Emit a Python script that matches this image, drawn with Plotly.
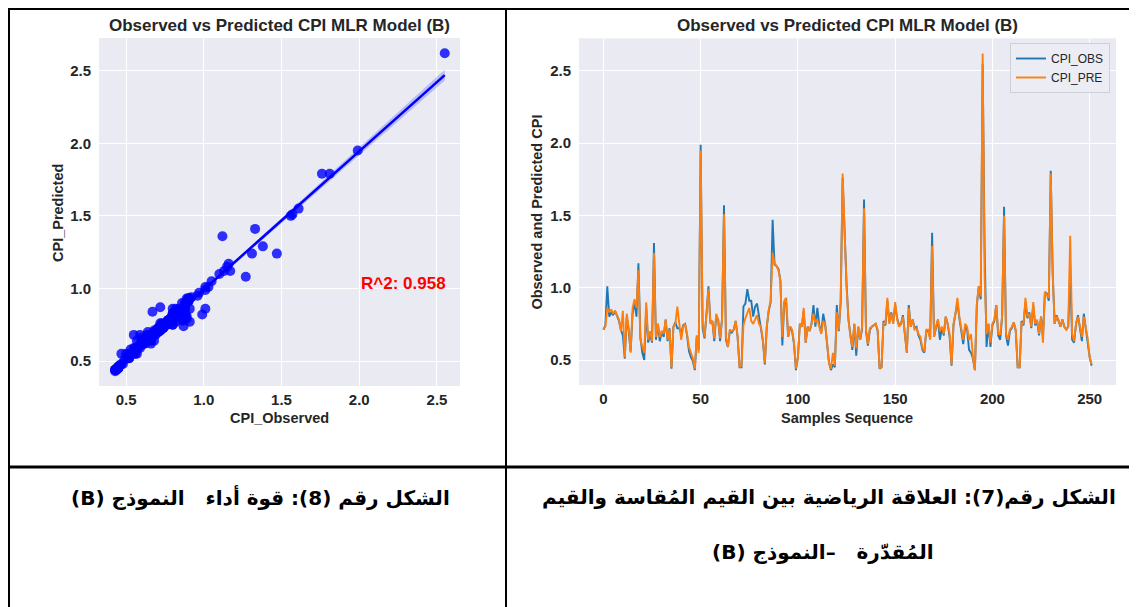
import numpy as np
import plotly.graph_objects as go

# page body has an 8px margin; the figure is sized/placed so that the
# reference pixel coordinates (in a 1137x607 window) land correctly.
OFF = 8
W, H = 1137 - OFF, 607 - OFF

# ---------------- data ----------------
CPI_OBS = [
    0.71, 0.74, 1.01, 0.80, 0.83, 0.81, 0.84, 0.80, 0.77, 0.71,
    0.67, 0.51, 0.80, 0.70, 0.56, 0.82, 0.90, 0.80, 1.17, 0.66,
    0.55, 0.50, 0.86, 0.62, 0.68, 0.62, 1.31, 0.64, 0.75, 0.63,
    0.70, 0.66, 0.78, 0.63, 0.72, 0.44, 0.73, 0.76, 0.72, 0.72,
    0.68, 0.74, 0.75, 0.67, 0.56, 0.52, 0.49, 0.43, 0.66, 0.57,
    1.99, 0.72, 0.65, 0.82, 1.01, 0.76, 0.77, 0.63, 0.80, 0.78,
    0.63, 0.79, 1.57, 0.64, 0.59, 0.70, 0.69, 0.71, 0.77, 0.66,
    0.45, 0.45, 0.87, 0.89, 0.99, 0.91, 0.91, 0.80, 0.87, 0.89,
    0.80, 0.73, 0.63, 0.47, 0.73, 0.84, 0.90, 1.47, 1.16, 1.15,
    1.13, 1.05, 0.60, 0.90, 0.89, 0.66, 0.73, 0.70, 0.61, 0.43,
    0.52, 0.75, 0.73, 0.84, 0.62, 0.73, 0.70, 0.75, 0.88, 0.73,
    0.86, 0.74, 0.69, 0.82, 0.75, 0.61, 0.48, 0.43, 0.47, 0.45,
    0.88, 0.70, 0.90, 1.76, 1.33, 1.03, 0.78, 0.65, 0.57, 0.75,
    0.53, 0.73, 0.64, 0.71, 1.61, 0.70, 0.60, 0.71, 0.73, 0.74,
    0.75, 0.70, 0.44, 0.45, 0.77, 0.74, 0.91, 0.76, 0.83, 0.76,
    0.88, 0.79, 0.74, 0.75, 0.81, 0.68, 0.55, 0.88, 0.73, 0.78,
    0.72, 0.73, 0.67, 0.64, 0.57, 0.55, 0.70, 0.70, 0.65, 1.38,
    0.66, 0.72, 0.78, 0.64, 0.72, 0.67, 0.80, 0.75, 0.66, 0.46,
    0.74, 0.82, 0.90, 0.79, 0.68, 0.61, 0.73, 0.71, 0.57, 0.55,
    0.51, 0.43, 0.88, 1.01, 0.92, 2.55, 1.27, 0.59, 0.75, 0.59,
    0.74, 0.77, 0.88, 0.67, 0.64, 0.80, 1.56, 0.67, 0.60, 0.70,
    0.72, 0.76, 0.70, 0.45, 0.45, 0.77, 0.74, 0.90, 0.79, 0.83,
    0.72, 0.88, 0.74, 0.77, 0.67, 0.80, 0.66, 0.97, 0.96, 0.91,
    1.81, 1.10, 0.75, 0.81, 0.77, 0.73, 0.78, 0.73, 0.71, 0.73,
    1.12, 0.64, 0.62, 0.75, 0.81, 0.73, 0.63, 0.82, 0.71, 0.64,
    0.52, 0.46,
]
CPI_PRE = [
    0.71, 0.73, 0.86, 0.83, 0.85, 0.82, 0.84, 0.81, 0.78, 0.70,
    0.84, 0.52, 0.82, 0.72, 0.55, 0.86, 0.92, 0.86, 1.12, 0.64,
    0.59, 0.55, 0.90, 0.64, 0.70, 0.63, 1.24, 0.66, 0.75, 0.66,
    0.70, 0.68, 0.78, 0.64, 0.71, 0.45, 0.73, 0.75, 0.87, 0.73,
    0.64, 0.73, 0.75, 0.68, 0.59, 0.55, 0.51, 0.44, 0.67, 0.55,
    1.95, 0.76, 0.66, 0.82, 0.99, 0.75, 0.77, 0.65, 0.82, 0.78,
    0.65, 0.78, 1.51, 0.66, 0.59, 0.71, 0.70, 0.71, 0.77, 0.66,
    0.45, 0.46, 0.74, 0.79, 0.82, 0.86, 0.77, 0.75, 0.78, 0.81,
    0.75, 0.73, 0.64, 0.48, 0.73, 0.85, 0.91, 1.24, 1.17, 1.15,
    1.12, 1.05, 0.66, 0.91, 0.93, 0.66, 0.73, 0.71, 0.62, 0.44,
    0.52, 0.75, 0.73, 0.86, 0.62, 0.73, 0.70, 0.75, 0.82, 0.76,
    0.78, 0.73, 0.68, 0.77, 0.75, 0.62, 0.48, 0.44, 0.55, 0.46,
    0.83, 0.71, 0.91, 1.79, 1.41, 1.01, 0.78, 0.66, 0.59, 0.75,
    0.58, 0.73, 0.64, 0.73, 1.55, 0.71, 0.61, 0.72, 0.73, 0.74,
    0.75, 0.71, 0.44, 0.45, 0.76, 0.75, 0.93, 0.75, 0.82, 0.75,
    0.90, 0.78, 0.73, 0.75, 0.80, 0.68, 0.55, 0.86, 0.73, 0.78,
    0.71, 0.72, 0.68, 0.66, 0.58, 0.56, 0.71, 0.71, 0.64, 1.29,
    0.66, 0.73, 0.78, 0.70, 0.73, 0.68, 0.80, 0.75, 0.68, 0.47,
    0.75, 0.82, 0.93, 0.80, 0.71, 0.64, 0.75, 0.73, 0.64, 0.68,
    0.52, 0.43, 0.89, 1.01, 0.94, 2.62, 1.08, 0.68, 0.75, 0.62,
    0.75, 0.78, 0.88, 0.68, 0.68, 0.80, 1.50, 0.68, 0.64, 0.71,
    0.73, 0.76, 0.71, 0.45, 0.45, 0.76, 0.75, 0.93, 0.80, 0.82,
    0.73, 0.90, 0.75, 0.78, 0.68, 0.80, 0.62, 0.97, 0.95, 0.93,
    1.79, 1.10, 0.75, 0.80, 0.78, 0.73, 0.78, 0.73, 0.71, 0.73,
    1.36, 0.68, 0.63, 0.75, 0.80, 0.73, 0.66, 0.80, 0.71, 0.65,
    0.52, 0.47,
]
SAMPLES = list(range(len(CPI_OBS)))
R2_TEXT = "R^2: 0.958"
TITLE = "Observed vs Predicted CPI MLR Model (B)"
Y_TICKS = [0.5, 1.0, 1.5, 2.0, 2.5]
X_TICKS_SCATTER = [0.5, 1.0, 1.5, 2.0, 2.5]
X_TICKS_LINE = [0, 50, 100, 150, 200, 250]
NB = "\u00a0"
CAPTION_LEFT = "الشكل رقم (8): قوة أداء" + NB * 2 + " النموذج (B)"
CAPTION_RIGHT_1 = "الشكل رقم(7): العلاقة الرياضية بين القيم المُقاسة والقيم"
CAPTION_RIGHT_2 = "المُقدّرة" + NB * 2 + " –النموذج (B)"

# ---------------- helpers (window pixels -> paper fractions) ----------------
def px(x):
    return (x - OFF) / W

def py(y):
    return 1 - (y - OFF) / H

FONT = "Liberation Sans, Arial, sans-serif"
DARK = "#262626"
BG = "#EAEAF2"

# regression (seaborn regplot style)
xo = np.array(CPI_OBS)
yp = np.array(CPI_PRE)
n = len(xo)
slope, icpt = np.polyfit(xo, yp, 1)
xs = np.linspace(xo.min(), xo.max(), 100)
yhat = icpt + slope * xs
resid = yp - (icpt + slope * xo)
s = np.sqrt(np.sum(resid ** 2) / (n - 2))
sxx = np.sum((xo - xo.mean()) ** 2)
se = s * np.sqrt(1 / n + (xs - xo.mean()) ** 2 / sxx)
lo = yhat - 1.97 * se
hi = yhat + 1.97 * se

fig = go.Figure()

# left: scatter + regression
fig.add_trace(go.Scatter(
    x=list(xs) + list(xs[::-1]), y=list(hi) + list(lo[::-1]),
    fill="toself", fillcolor="rgba(0,0,255,0.2)", line=dict(width=0),
    mode="lines", showlegend=False, hoverinfo="skip", xaxis="x", yaxis="y"))
fig.add_trace(go.Scatter(
    x=CPI_OBS, y=CPI_PRE, mode="markers",
    marker=dict(color="rgba(0,0,255,0.8)", size=10, line=dict(width=0)),
    showlegend=False, xaxis="x", yaxis="y"))
fig.add_trace(go.Scatter(
    x=xs, y=yhat, mode="lines", line=dict(color="#0000FF", width=2.5),
    showlegend=False, xaxis="x", yaxis="y"))

# right: line chart
fig.add_trace(go.Scatter(
    x=SAMPLES, y=CPI_OBS, mode="lines", name="CPI_OBS",
    line=dict(color="#1f77b4", width=1.9), xaxis="x2", yaxis="y2"))
fig.add_trace(go.Scatter(
    x=SAMPLES, y=CPI_PRE, mode="lines", name="CPI_PRE",
    line=dict(color="#ff7f0e", width=1.9), xaxis="x2", yaxis="y2"))

tickfont = dict(family=FONT, size=15, color=DARK, weight="bold")
axis_common = dict(showgrid=True, gridcolor="white", gridwidth=1, zeroline=False,
                   showline=False, ticks="", tickfont=tickfont)

fig.update_layout(
    width=W, height=H,
    margin=dict(l=0, r=0, t=0, b=0),
    paper_bgcolor="white", plot_bgcolor=BG,
    font=dict(family=FONT, color=DARK),
    xaxis=dict(domain=[px(99), px(460)], range=[0.326, 2.648], ticklabelstandoff=3,
               tickvals=X_TICKS_SCATTER, tickformat=".1f", anchor="y", **axis_common),
    yaxis=dict(domain=[py(386), py(38)], range=[0.328, 2.725], ticklabelstandoff=7,
               tickvals=Y_TICKS, tickformat=".1f", anchor="x", **axis_common),
    xaxis2=dict(domain=[px(579), px(1116)], range=[-12.55, 263.55], ticklabelstandoff=3,
                tickvals=X_TICKS_LINE, anchor="y2", **axis_common),
    yaxis2=dict(domain=[py(385), py(38.3)], range=[0.327, 2.726], ticklabelstandoff=7,
                tickvals=Y_TICKS, tickformat=".1f", anchor="x2", **axis_common),
    legend=dict(x=px(1110), y=py(43), xanchor="right", yanchor="top",
                bgcolor="rgba(236,236,244,0.9)", bordercolor="#cfcfd6", borderwidth=1,
                font=dict(family=FONT, size=12, color=DARK), itemwidth=30,
                tracegroupgap=0),
    showlegend=True,
)

ann = []
def text(x, y, t, size, **kw):
    d = dict(x=x, y=y, xref="paper", yref="paper", text=t, showarrow=False,
             font=dict(family=FONT, size=size, color=DARK, weight="bold"),
             xanchor="center", yanchor="middle")
    d.update(kw)
    ann.append(d)

# titles and axis labels
text(px(279.5), py(25), TITLE, 17)
text(px(847.5), py(25), TITLE, 17)
text(px(279.5), py(418), "CPI_Observed", 14.5)
text(px(847.5), py(418), "Samples Sequence", 14.5)
text(px(58), py(213), "CPI_Predicted", 14.5, textangle=-90)
text(px(536.6), py(212), "Observed and Predicted CPI", 14.5, textangle=-90)

# R^2 label in data coordinates
ann.append(dict(x=2.0, y=1.037, xref="x", yref="y", text=R2_TEXT, showarrow=False,
                xanchor="left", yanchor="middle",
                font=dict(family=FONT, size=17, color="#FF0000", weight="bold")))

# Arabic captions (RTL embedding)
RLE, PDF = "\u202b", "\u202c"
AR_FONT = "DejaVu Sans, Noto Sans, sans-serif"
ar_font = dict(family=AR_FONT, size=20, color="black", weight="bold")
ann.append(dict(x=px(452), y=py(497), xref="paper", yref="paper",
                text=RLE + CAPTION_LEFT + PDF, showarrow=False,
                xanchor="right", yanchor="middle", font=ar_font))
ann.append(dict(x=px(1118), y=py(497), xref="paper", yref="paper",
                text=RLE + CAPTION_RIGHT_1 + PDF, showarrow=False,
                xanchor="right", yanchor="middle", font=ar_font))
ann.append(dict(x=px(823), y=py(552), xref="paper", yref="paper",
                text=RLE + CAPTION_RIGHT_2 + PDF, showarrow=False,
                xanchor="center", yanchor="middle", font=ar_font))
fig.update_layout(annotations=ann)

# table borders
shapes = []
def hline(y, x0, x1, w=2):
    shapes.append(dict(type="line", xref="paper", yref="paper",
                       x0=px(x0), x1=px(x1), y0=py(y), y1=py(y),
                       line=dict(color="black", width=w)))
def vline(x, y0, y1, w=2):
    shapes.append(dict(type="line", xref="paper", yref="paper",
                       x0=px(x), x1=px(x), y0=py(y0), y1=py(y1),
                       line=dict(color="black", width=w)))
hline(9, 9, 1134)
hline(467, 9, 1134, 3)
vline(9, 8, 607)
vline(506, 8, 607)
vline(1134, 8, 607)
fig.update_layout(shapes=shapes)

fig.write_html("out.html")
